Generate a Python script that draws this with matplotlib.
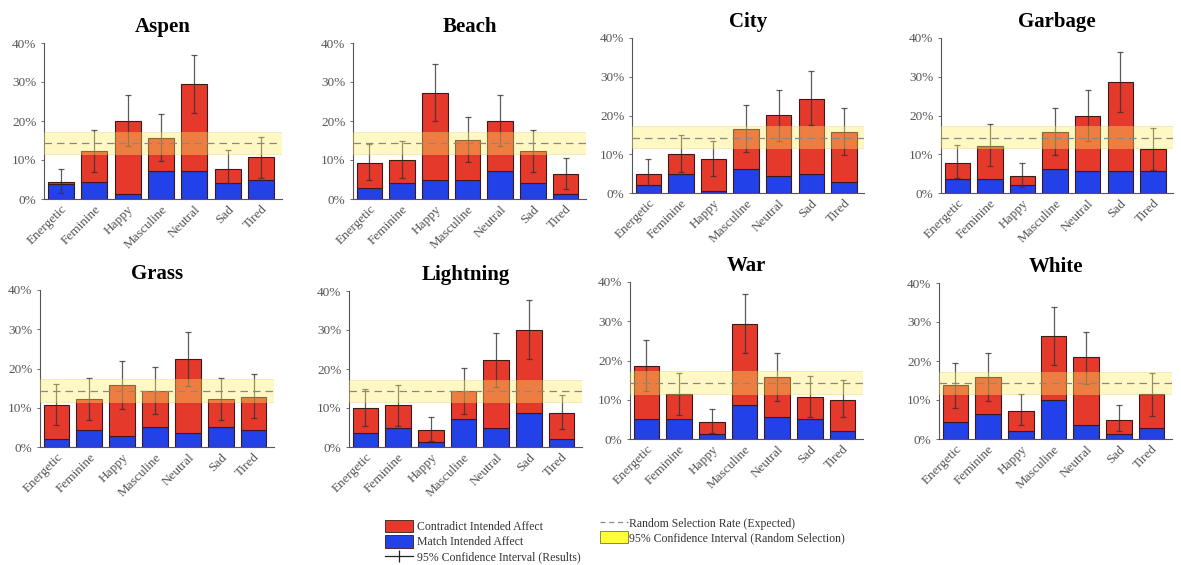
import matplotlib
matplotlib.use("Agg")
import matplotlib.pyplot as plt
from matplotlib.patches import Patch
from matplotlib.lines import Line2D

plt.rcParams['font.family'] = ['Liberation Serif', 'DejaVu Serif']

emotions = ["Energetic", "Feminine", "Happy", "Masculine", "Neutral", "Sad", "Tired"]

# total selection rate (%) per emotion, share matching intended affect, and 95% CI of the result
aspen_total = [4.3, 12.2, 20.0, 15.7, 29.5, 7.8, 10.8]
aspen_match = [3.8, 4.3, 1.3, 7.3, 7.2, 4.2, 4.8]
aspen_ci_hi = [7.7, 17.7, 26.7, 21.8, 37.0, 12.5, 16.0]
aspen_ci_lo = [1.5, 7.0, 13.5, 9.8, 22.0, 4.0, 5.5]

beach_total = [9.3, 10.0, 27.3, 15.0, 20.0, 12.2, 6.3]
beach_match = [2.8, 4.2, 4.8, 4.8, 7.2, 4.2, 1.3]
beach_ci_hi = [14.2, 15.0, 34.6, 21.0, 26.7, 17.7, 10.5]
beach_ci_lo = [4.8, 5.5, 20.0, 9.5, 13.5, 7.0, 2.5]

city_total = [5.0, 10.0, 8.7, 16.5, 20.0, 24.3, 15.8]
city_match = [2.0, 4.8, 0.5, 6.3, 4.3, 4.8, 2.8]
city_ci_hi = [8.7, 15.0, 13.3, 22.7, 26.7, 31.5, 21.9]
city_ci_lo = [2.0, 5.5, 4.5, 10.5, 13.5, 17.5, 9.8]

garbage_total = [7.8, 12.2, 4.3, 15.8, 20.0, 28.7, 11.3]
garbage_match = [3.5, 3.5, 2.0, 6.2, 5.7, 5.7, 5.7]
garbage_ci_hi = [12.5, 17.7, 7.7, 21.9, 26.7, 36.4, 16.9]
garbage_ci_lo = [4.0, 7.0, 1.5, 9.8, 13.5, 21.0, 6.0]

grass_total = [10.8, 12.2, 15.8, 14.3, 22.3, 12.2, 12.8]
grass_match = [2.0, 4.3, 2.7, 5.0, 3.5, 5.0, 4.3]
grass_ci_hi = [16.0, 17.7, 22.0, 20.3, 29.2, 17.7, 18.5]
grass_ci_lo = [5.5, 7.0, 9.8, 8.5, 15.5, 7.0, 7.5]

lightning_total = [10.0, 10.8, 4.3, 14.3, 22.3, 30.1, 8.7]
lightning_match = [3.5, 5.0, 1.3, 7.2, 5.0, 8.8, 2.0]
lightning_ci_hi = [14.9, 16.0, 7.7, 20.3, 29.2, 37.7, 13.4]
lightning_ci_lo = [5.5, 5.5, 1.5, 8.5, 15.5, 22.5, 4.5]

war_total = [18.7, 11.5, 4.3, 29.3, 15.8, 10.8, 10.0]
war_match = [5.0, 5.0, 1.3, 8.7, 5.7, 5.0, 2.0]
war_ci_hi = [25.2, 16.9, 7.7, 36.9, 22.0, 16.0, 15.0]
war_ci_lo = [12.3, 6.0, 1.5, 22.0, 9.8, 5.5, 5.5]

white_total = [13.8, 15.8, 7.3, 26.5, 21.0, 5.0, 11.5]
white_match = [4.3, 6.3, 2.0, 10.0, 3.5, 1.3, 2.8]
white_ci_hi = [19.4, 22.0, 11.6, 33.8, 27.5, 8.7, 16.9]
white_ci_lo = [8.0, 9.8, 3.5, 19.0, 14.0, 2.0, 6.0]

# expected rate under random selection (1 of 7) and its 95% interval
random_rate = 14.3
random_ci = (11.5, 17.3)

panels = [
    ("Aspen", aspen_total, aspen_match, aspen_ci_lo, aspen_ci_hi, (44, 282, 199, 43)),
    ("Beach", beach_total, beach_match, beach_ci_lo, beach_ci_hi, (353, 586, 199, 43)),
    ("City", city_total, city_match, city_ci_lo, city_ci_hi, (632, 864, 193, 38)),
    ("Garbage", garbage_total, garbage_match, garbage_ci_lo, garbage_ci_hi, (941, 1173, 193, 38)),
    ("Grass", grass_total, grass_match, grass_ci_lo, grass_ci_hi, (40, 274, 447, 290)),
    ("Lightning", lightning_total, lightning_match, lightning_ci_lo, lightning_ci_hi, (349, 582, 447, 291)),
    ("War", war_total, war_match, war_ci_lo, war_ci_hi, (630, 863, 439, 282)),
    ("White", white_total, white_match, white_ci_lo, white_ci_hi, (939, 1172, 439, 283)),
]

W, H = 1181, 565
fig = plt.figure(figsize=(W / 100, H / 100), dpi=100)

RED = "#e5392b"
BLUE = "#2341e8"
EDGE = "#3a1a1a"
BAND = "#ffee66"
GRAY = "#555555"

x = list(range(1, len(emotions) + 1))

for title, total, match, lo, hi, (x0, x1, y0, y40) in panels:
    ax = fig.add_axes([x0 / W, (H - y0) / H, (x1 - x0) / W, (y0 - y40) / H])
    contra = [t - m for t, m in zip(total, match)]
    ax.bar(x, match, width=0.78, color=BLUE, edgecolor=EDGE, linewidth=0.8, zorder=2)
    ax.bar(x, contra, bottom=match, width=0.78, color=RED, edgecolor=EDGE, linewidth=0.8, zorder=2)
    yerr = [[t - l for t, l in zip(total, lo)], [h - t for t, h in zip(total, hi)]]
    ax.errorbar(x, total, yerr=yerr, fmt="none", ecolor="#333333", elinewidth=0.9,
                capsize=2.5, capthick=0.9, alpha=0.8, zorder=3)
    ax.axhspan(random_ci[0], random_ci[1], facecolor=BAND, alpha=0.38,
               edgecolor="#d8c860", linewidth=0.6, zorder=4)
    ax.axhline(random_rate, color="#888888", linestyle=(0, (6, 4)), linewidth=0.9, zorder=5)

    ax.set_xlim(0.5, 7.62)
    ax.set_ylim(0, 40)
    ax.set_yticks([0, 10, 20, 30, 40])
    ax.set_yticklabels(["0%", "10%", "20%", "30%", "40%"])
    ax.set_xticks(x)
    ax.set_xticklabels(emotions, rotation=45, ha="right", rotation_mode="anchor")
    ax.tick_params(axis="both", colors=GRAY, labelsize=9.5, length=2, width=0.6)
    ax.tick_params(axis="x", length=0, pad=3)
    for side in ("top", "right"):
        ax.spines[side].set_visible(False)
    for side in ("left", "bottom"):
        ax.spines[side].set_color(GRAY)
        ax.spines[side].set_linewidth(0.8)
    ax.set_title(title, fontsize=15, fontweight="bold", pad=8)

# legend for bars and result intervals
h1 = [Patch(facecolor=RED, edgecolor=EDGE, linewidth=0.6),
      Patch(facecolor=BLUE, edgecolor=EDGE, linewidth=0.6)]
err_handle = fig.axes[0].errorbar([], [], yerr=[], fmt="-", color="#222222",
                                  ecolor="#222222", capsize=3, elinewidth=0.9, linewidth=0.9)
leg1 = fig.legend(h1 + [err_handle],
                  ["Contradict Intended Affect", "Match Intended Affect",
                   "95% Confidence Interval (Results)"],
                  loc="upper left", bbox_to_anchor=(379 / W, (H - 514) / H),
                  frameon=False, fontsize=8.5, handlelength=2.4, handleheight=1.25,
                  labelspacing=0.18, handletextpad=0.35, borderpad=0)
for t in leg1.get_texts():
    t.set_color("#333333")

h2 = [Line2D([], [], color="#888888", linestyle=(0, (4, 3)), linewidth=0.9),
      Patch(facecolor="#ffff33", edgecolor="#777733", linewidth=0.6)]
leg2 = fig.legend(h2, ["Random Selection Rate (Expected)",
                       "95% Confidence Interval (Random Selection)"],
                  loc="upper left", bbox_to_anchor=(594 / W, (H - 511) / H),
                  frameon=False, fontsize=8.5, handlelength=2.4, handleheight=1.25,
                  labelspacing=0.05, handletextpad=0.1, borderpad=0)
for t in leg2.get_texts():
    t.set_color("#333333")

fig.savefig("out.png", dpi=100, facecolor="white")
